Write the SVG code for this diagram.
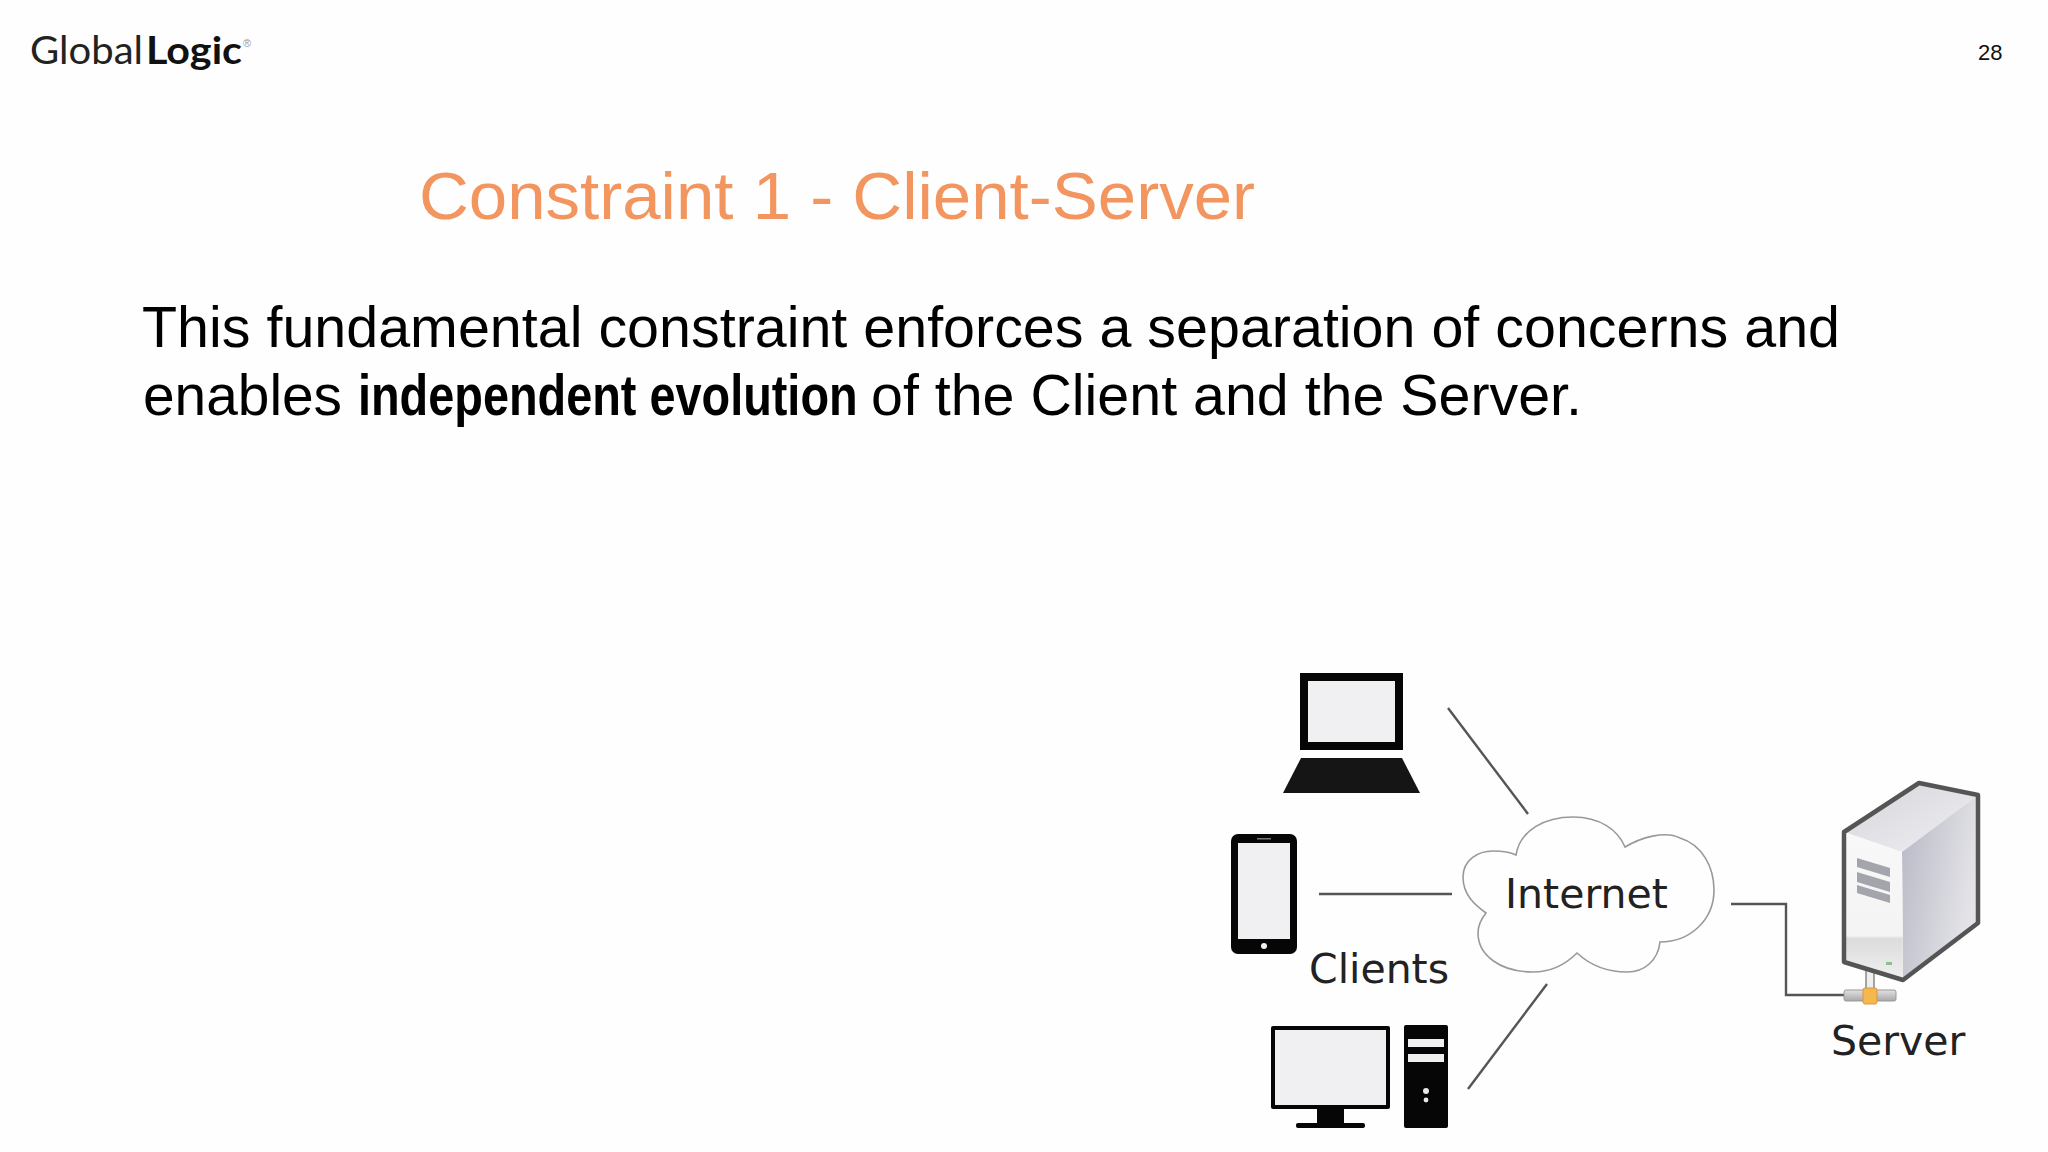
<svg xmlns="http://www.w3.org/2000/svg" width="2048" height="1152" viewBox="0 0 2048 1152">
<defs>
<linearGradient id="top" x1="0" y1="0" x2="1" y2="1"><stop offset="0" stop-color="#d4d4da"/><stop offset="1" stop-color="#f0f0f3"/></linearGradient>
<linearGradient id="side" x1="0" y1="0" x2="1" y2="0.4"><stop offset="0" stop-color="#b8b8c6"/><stop offset="1" stop-color="#e4e4e8"/></linearGradient>
<linearGradient id="front" x1="0" y1="0" x2="0" y2="1"><stop offset="0" stop-color="#f8f8f8"/><stop offset="0.7" stop-color="#f4f4f4"/><stop offset="0.72" stop-color="#dcdcdc"/><stop offset="1" stop-color="#f0f0f0"/></linearGradient>
<linearGradient id="pipe" x1="0" y1="0" x2="0" y2="1"><stop offset="0" stop-color="#e2e2e2"/><stop offset="1" stop-color="#a8a8a8"/></linearGradient>
</defs>
<style>
text{font-family:"Liberation Sans",Arial,sans-serif}
.lbl{font-family:"DejaVu Sans",sans-serif;font-size:41px;fill:#222}
.body{font-size:57px;fill:#000}
.k{fill:#060606}
.scr{fill:#f0eff1}
.conn{fill:none;stroke:#555;stroke-width:2.4}
</style>
<rect width="2048" height="1152" fill="#fefefe"/>
<g id="logo">
<text x="30" y="64" font-size="38" textLength="113" lengthAdjust="spacingAndGlyphs" fill="#222" style="font-family:Lato,sans-serif;font-weight:400">Global</text>
<text x="146" y="64" font-size="38" textLength="96" lengthAdjust="spacingAndGlyphs" fill="#111" style="font-family:Lato,sans-serif;font-weight:700">Logic</text>
<text x="243" y="47" font-size="11" fill="#999">®</text>
</g>
<text id="page-number" x="1978" y="60" font-size="22" fill="#111">28</text>
<text id="title" x="419" y="219" font-size="67" fill="#f2955f" textLength="836" lengthAdjust="spacingAndGlyphs">Constraint 1 - Client-Server</text>
<g id="body">
<text class="body" x="142" y="347" textLength="1698" lengthAdjust="spacingAndGlyphs">This fundamental constraint enforces a separation of concerns and</text>
<text class="body" x="143" y="415" textLength="199" lengthAdjust="spacingAndGlyphs">enables</text>
<text class="body" transform="translate(358,415) scale(0.822,1)" font-weight="700">independent evolution</text>
<text class="body" x="871" y="415" textLength="711" lengthAdjust="spacingAndGlyphs">of the Client and the Server.</text>
</g>
<g id="connectors">
<path class="conn" d="M1448,708L1528,814"/>
<path class="conn" d="M1319,894H1452"/>
<path class="conn" d="M1547,984L1468,1089"/>
<path class="conn" d="M1731,904H1786V995H1844"/>
</g>
<g id="laptop">
<rect class="k" x="1300" y="673" width="103" height="77"/>
<rect class="scr" x="1308" y="681" width="87" height="61"/>
<path class="k" d="M1301,758H1402L1420,793H1283Z" fill-opacity="0.94"/>
</g>
<g id="phone">
<rect class="k" x="1231" y="834" width="66" height="120" rx="7"/>
<rect class="scr" x="1238" y="843" width="52" height="96"/>
<rect x="1257" y="838" width="14" height="1.5" fill="#777"/>
<circle cx="1264" cy="946" r="3" fill="#f0eff1"/>
</g>
<g id="desktop">
<rect class="k" x="1271" y="1026" width="119" height="83" rx="2"/>
<rect class="scr" x="1275" y="1030" width="111" height="75"/>
<rect class="k" x="1317" y="1109" width="27" height="14"/>
<rect class="k" x="1296" y="1123" width="69" height="5" rx="2"/>
<rect class="k" x="1404" y="1025" width="44" height="103" rx="2"/>
<rect class="scr" x="1408" y="1039" width="36" height="8"/>
<rect class="scr" x="1408" y="1054" width="36" height="8"/>
<circle cx="1426" cy="1091" r="3" fill="#e8e8e8"/>
<circle cx="1426" cy="1100" r="2.4" fill="#e8e8e8"/>
</g>
<text id="clients-label" class="lbl" x="1309" y="983">Clients</text>
<g id="internet">
<path fill="#fefefe" stroke="#999" stroke-width="1.6" d="M1516,855C1520,830 1545,817 1573,817C1600,817 1618,830 1625,847C1640,838 1665,830 1680,838C1703,845 1714,868 1714,890C1714,920 1690,942 1660,942C1658,960 1645,972 1627,972C1605,972 1590,965 1577,953C1565,965 1550,972 1533,972C1500,972 1478,955 1478,933C1478,925 1482,918 1486,913C1475,905 1463,895 1463,877C1463,860 1478,851 1493,851C1502,851 1510,852 1516,855Z"/>
<text class="lbl" x="1505" y="908">Internet</text>
</g>
<g id="server">
<rect x="1866" y="968" width="8" height="24" fill="#eee" stroke="#888" stroke-width="1.5"/>
<path d="M1844,832L1919,783L1978,795L1902,852Z" fill="url(#top)"/>
<path d="M1902,852L1978,795V923L1903,980Z" fill="url(#side)"/>
<path d="M1844,832L1902,852L1903,980L1844,962Z" fill="url(#front)"/>
<path d="M1844,832L1919,783L1978,795V923L1903,980L1844,962Z" fill="none" stroke="#555" stroke-width="4.5" stroke-linejoin="round"/>
<path d="M1857,858L1890,868V877L1857,867Z M1857,872L1890,882V892L1857,882Z M1857,885L1890,895V903L1857,893Z" fill="#a4a4ac"/>
<rect x="1886" y="962" width="6" height="3" fill="#8fbf8f"/>
<rect x="1844" y="990" width="52" height="11" rx="2" fill="url(#pipe)" stroke="#999" stroke-width="1"/>
<rect x="1863" y="988" width="14" height="16" rx="2" fill="#f4b84e" stroke="#d9973a" stroke-width="1"/>
<text class="lbl" x="1831" y="1055">Server</text>
</g>
</svg>
